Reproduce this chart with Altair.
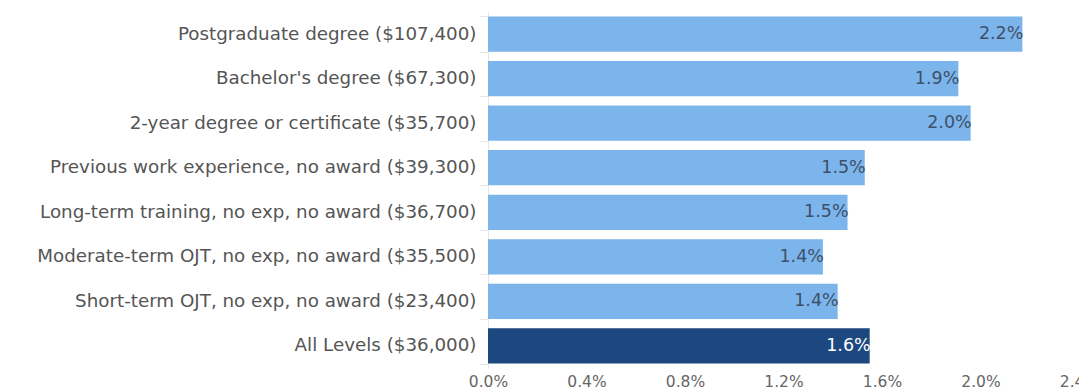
import altair as alt
import pandas as pd

categories = [
    "Postgraduate degree ($107,400)",
    "Bachelor's degree ($67,300)",
    "2-year degree or certificate ($35,700)",
    "Previous work experience, no award ($39,300)",
    "Long-term training, no exp, no award ($36,700)",
    "Moderate-term OJT, no exp, no award ($35,500)",
    "Short-term OJT, no exp, no award ($23,400)",
    "All Levels ($36,000)",
]
values = [2.17, 1.91, 1.96, 1.53, 1.46, 1.36, 1.42, 1.55]
value_labels = ["2.2%", "1.9%", "2.0%", "1.5%", "1.5%", "1.4%", "1.4%", "1.6%"]
groups = ["level"] * 7 + ["all"]
tick_values = [0, 0.004, 0.008, 0.012, 0.016, 0.020, 0.024]

df = pd.DataFrame({
    "category": categories,
    "value": [v / 100 for v in values],
    "label": value_labels,
    "group": groups,
})

FONT = "DejaVu Sans"

y_enc = alt.Y(
    "category:N",
    sort=categories,
    title=None,
    scale=alt.Scale(paddingInner=0.21, paddingOuter=0.1),
    axis=alt.Axis(
        labelFont=FONT,
        labelFontSize=18.3,
        labelColor="#555555",
        labelPadding=4,
        tickBand="extent",
        tickColor="#e6e6e6",
        tickSize=8,
        domainColor="#e6e6e6",
        labelLimit=480,
    ),
)

x_enc = alt.X(
    "value:Q",
    title=None,
    scale=alt.Scale(domain=[0, 0.024], nice=False),
    axis=alt.Axis(
        format=".1%",
        values=tick_values,
        labelFont=FONT,
        labelFontSize=15.5,
        labelColor="#666666",
        ticks=False,
        domain=False,
        grid=False,
        labelPadding=6,
        labelFlush=False,
    ),
)

bars = alt.Chart(df).mark_bar().encode(
    y=y_enc,
    x=x_enc,
    color=alt.Color(
        "group:N",
        scale=alt.Scale(domain=["level", "all"], range=["#7cb5ec", "#1d477f"]),
        legend=None,
    ),
)

text = alt.Chart(df).mark_text(
    align="right", baseline="middle", dx=1, font=FONT, fontSize=17.5
).encode(
    y=alt.Y("category:N", sort=categories),
    x="value:Q",
    text="label:N",
    color=alt.Color(
        "group:N",
        scale=alt.Scale(domain=["level", "all"], range=["#3e5069", "#ffffff"]),
        legend=None,
    ),
)

chart = (
    alt.layer(bars, text)
    .resolve_scale(color="independent")
    .properties(
        width=591,
        height=356,
        background="white",
        autosize=alt.AutoSizeParams(type="none"),
        padding={"left": 480, "top": 4, "right": 0, "bottom": 30},
    )
    .configure_view(stroke=None)
)

chart.save("out.html", embed_options={"renderer": "svg", "actions": False})
